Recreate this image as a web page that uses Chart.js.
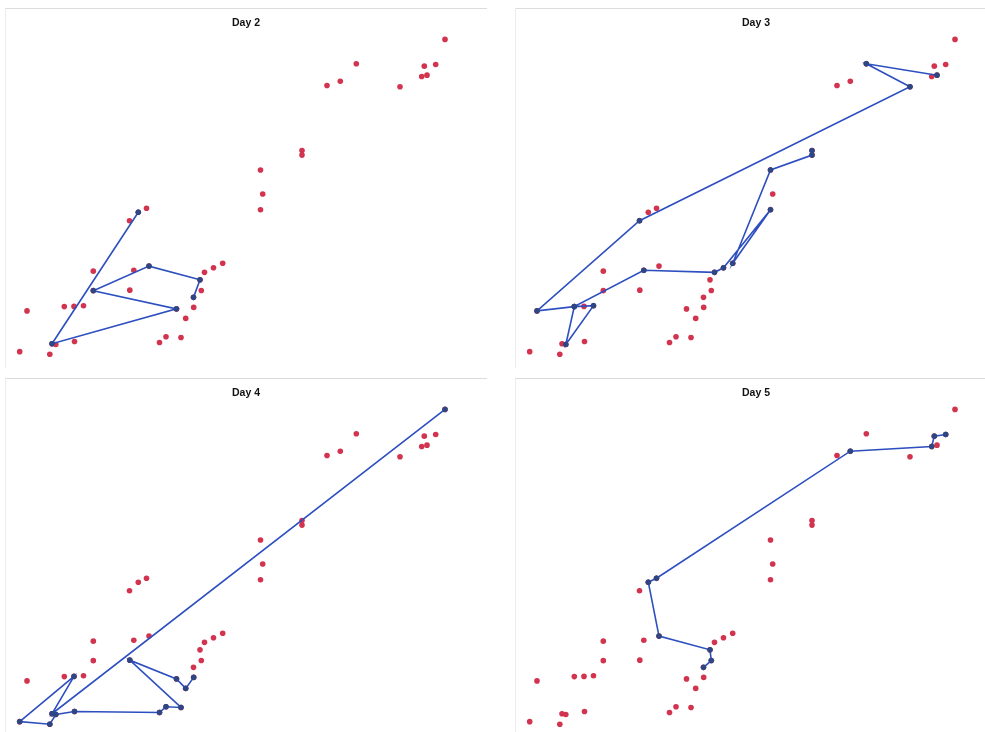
<!DOCTYPE html>
<html>
<head>
<meta charset="utf-8">
<script src="https://cdn.jsdelivr.net/npm/chart.js@4/dist/chart.umd.min.js"></script>
<style>
    body { margin: 0; background: #fff; width: 985px; height: 732px; overflow: hidden; position: relative; }
    .panel { position: absolute; width: 482px; height: 360px; border-top: 1px solid #dcdcdc; border-left: 1px solid #ededed; box-sizing: border-box; }
    .panel canvas { position: absolute; left: -1px; top: -1px; }
</style>
</head>
<body>
<div class="panel" style="left:5px; top:8px;"><canvas id="day2" width="482" height="360"></canvas></div>
<div class="panel" style="left:515px; top:8px;"><canvas id="day3" width="482" height="360"></canvas></div>
<div class="panel" style="left:5px; top:378px;"><canvas id="day4" width="482" height="360"></canvas></div>
<div class="panel" style="left:515px; top:378px;"><canvas id="day5" width="482" height="360"></canvas></div>
<script>
// Customer locations (same map on every day)
const custX = [445, 424.3, 435.7, 421.7, 427, 400, 356.3, 340.3, 327, 302, 302, 260.5, 262.7, 260.5,
    146.5, 138.3, 129.5, 222.7, 213.5, 204.5, 200, 201.3, 193.5, 193.7, 185.7, 181, 166, 159.5,
    133.8, 149, 129.8, 93.3, 93.3, 83.5, 74, 64.3, 27, 74.5, 55.8, 49.8, 19.7, 52, 176.5];
const custY = [330, 303.3, 305, 293, 294.3, 282.7, 305.7, 288.3, 284, 219, 214.5, 199.7, 175.7, 160,
    161.5, 157.5, 149, 106.5, 102, 97.5, 90, 79.3, 72.5, 62.5, 51.5, 32.5, 33.2, 27.5,
    99.5, 103.7, 79.7, 98.7, 79.2, 64.2, 63.5, 63.3, 59, 28.5, 25.5, 15.8, 18.3, 26.2, 61];

// Visit order per day (customer indices)
const dayTitles = ['Day 2', 'Day 3', 'Day 4', 'Day 5'];
const routeDay2 = [15, 41, 42, 32, 29, 20, 22];
const routeDay3 = [9, 10, 11, 17, 13, 18, 19, 28, 35, 38, 33, 35, 36, 16, 5, 6, 4];
const routeDay4 = [0, 41, 34, 40, 39, 38, 37, 27, 26, 25, 30, 42, 24, 23];
const routeDay5 = [2, 1, 3, 7, 14, 15, 29, 20, 21, 22];

const customers = custX.map((x, i) => ({ x: x, y: custY[i] }));

function makeChart(canvasId, title, route) {
    const routePts = route.map(i => customers[i]);
    new Chart(document.getElementById(canvasId), {
        type: 'scatter',
        data: {
            datasets: [
                {
                    label: 'Customers',
                    data: customers,
                    order: 1,
                    backgroundColor: '#d2334e',
                    borderColor: '#d2334e',
                    pointRadius: 2.8,
                    borderWidth: 0
                },
                {
                    label: 'Route',
                    data: routePts,
                    order: 0,
                    showLine: true,
                    borderColor: '#2d4fbf',
                    borderWidth: 1.6,
                    backgroundColor: '#2b4785',
                    pointBorderColor: '#2b4785',
                    pointBorderWidth: 1,
                    pointRadius: 2.4,
                    tension: 0
                }
            ]
        },
        options: {
            responsive: false,
            animation: false,
            clip: false,
            layout: { padding: 0, autoPadding: false },
            plugins: {
                legend: { display: false },
                tooltip: { enabled: false },
                title: {
                    display: true,
                    text: title,
                    color: '#111',
                    font: { family: 'Liberation Sans, Arial, sans-serif', size: 10.5, weight: 'bold' },
                    padding: { top: 9, bottom: 5 }
                }
            },
            scales: {
                x: { type: 'linear', display: false, min: 5, max: 487 },
                y: { type: 'linear', display: false, min: 2, max: 334.8 }
            }
        }
    });
}

makeChart('day2', dayTitles[0], routeDay2);
makeChart('day3', dayTitles[1], routeDay3);
makeChart('day4', dayTitles[2], routeDay4);
makeChart('day5', dayTitles[3], routeDay5);
</script>
</body>
</html>
